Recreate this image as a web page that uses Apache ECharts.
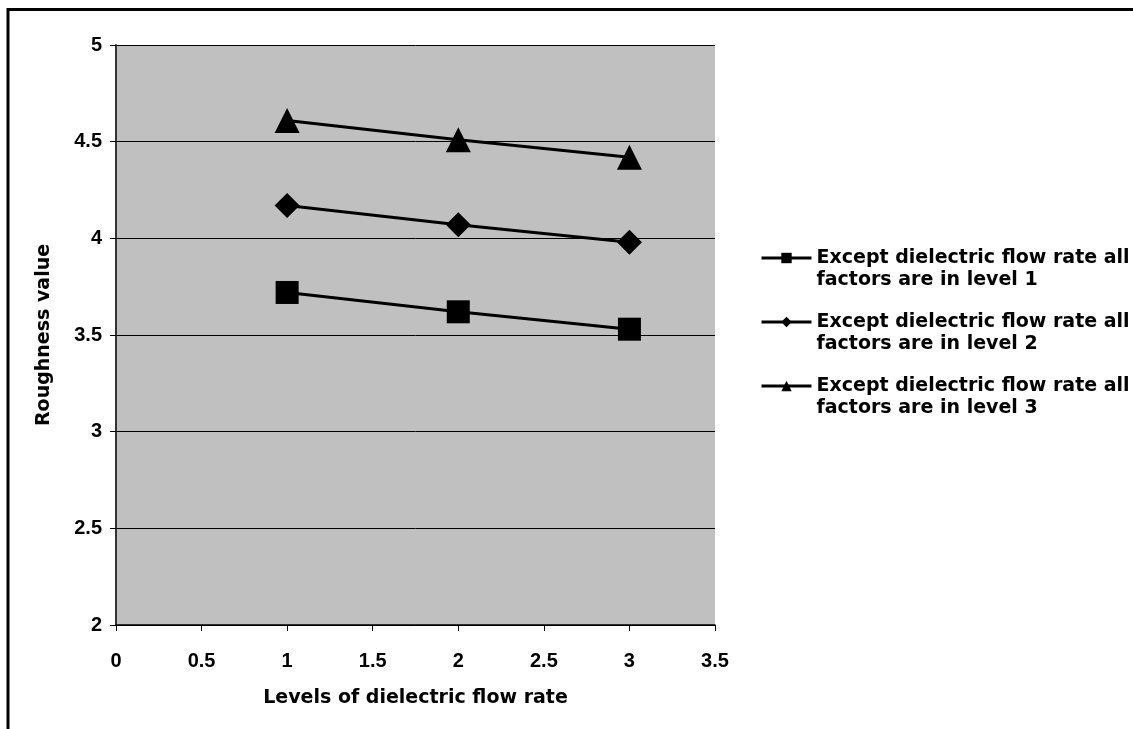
<!DOCTYPE html>
<html>
<head>
<meta charset="utf-8">
<script src="https://cdn.jsdelivr.net/npm/echarts@6/dist/echarts.min.js"></script>
<style>
html,body{margin:0;padding:0;background:#fff;}
#chart{width:1133px;height:729px;}
</style>
</head>
<body>
<div id="chart"></div>
<script>
const levels = [1, 2, 3];
const level1 = [3.72, 3.62, 3.53];
const level2 = [4.17, 4.07, 3.98];
const level3 = [4.61, 4.51, 4.42];
const seriesNames = [
  'Except dielectric flow rate all factors are in level 1',
  'Except dielectric flow rate all factors are in level 2',
  'Except dielectric flow rate all factors are in level 3'
];
const xAxisTitle = 'Levels of dielectric flow rate';
const yAxisTitle = 'Roughness value';

const FONT = '"DejaVu Sans", "Liberation Sans", Arial, sans-serif';
const TICKFONT = '"Liberation Sans", Arial, sans-serif';
const pairs = vals => levels.map((x, i) => [x, vals[i]]);

const chart = echarts.init(document.getElementById('chart'), null, {renderer: 'canvas'});
const symbols = [['rect', 23], ['diamond', 25], ['triangle', 25]];
const datasets = [level1, level2, level3];

chart.setOption({
  animation: false,
  backgroundColor: '#ffffff',
  graphic: [{
    type: 'rect',
    shape: {x: 8, y: 9.5, width: 1200, height: 800},
    style: {fill: 'none', stroke: '#000', lineWidth: 3},
    silent: true
  }],
  grid: {
    left: 116, right: 418, top: 45, bottom: 104,
    show: true, backgroundColor: '#C0C0C0', borderWidth: 0
  },
  legend: {
    left: 760, top: 225,
    padding: 0,
    orient: 'vertical',
    itemWidth: 50, itemHeight: 13,
    itemGap: -2,
    lineStyle: {width: 3, color: '#000'},
    formatter: name => {
      const idx = name.indexOf(' factors');
      return '\n' + name.slice(0, idx) + '\n' + name.slice(idx + 1);
    },
    textStyle: {fontFamily: FONT, fontWeight: 'bold', fontSize: 19, color: '#000', lineHeight: 22},
    data: seriesNames
  },
  xAxis: {
    type: 'value', min: 0, max: 3.5, interval: 0.5,
    name: xAxisTitle, nameLocation: 'middle', nameGap: 64,
    nameTextStyle: {fontFamily: FONT, fontWeight: 'bold', fontSize: 19, color: '#000'},
    axisLine: {show: true, onZero: false, lineStyle: {color: '#000', width: 1.5}},
    axisTick: {show: true, inside: false, length: 6, lineStyle: {color: '#000'}},
    axisLabel: {fontFamily: TICKFONT, fontWeight: 'bold', fontSize: 20, color: '#000', margin: 26},
    splitLine: {show: false}
  },
  yAxis: {
    type: 'value', min: 2, max: 5, interval: 0.5,
    name: yAxisTitle, nameLocation: 'middle', nameGap: 62,
    nameTextStyle: {fontFamily: FONT, fontWeight: 'bold', fontSize: 19, color: '#000'},
    axisLine: {show: true, onZero: false, lineStyle: {color: '#333', width: 2}},
    axisTick: {show: true, inside: false, length: 6, lineStyle: {color: '#000'}},
    axisLabel: {fontFamily: TICKFONT, fontWeight: 'bold', fontSize: 20, color: '#000', margin: 14},
    splitLine: {show: true, lineStyle: {color: '#000', width: 1}}
  },
  series: datasets.map((vals, i) => ({
    name: seriesNames[i],
    type: 'line',
    data: pairs(vals),
    symbol: symbols[i][0],
    symbolSize: symbols[i][1],
    lineStyle: {color: '#000', width: 3},
    itemStyle: {color: '#000'},
    emphasis: {disabled: true}
  }))
});
</script>
</body>
</html>
